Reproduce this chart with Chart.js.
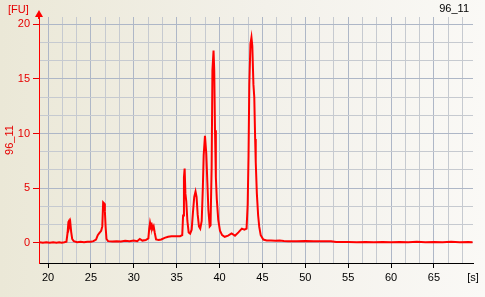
<!DOCTYPE html>
<html><head><meta charset="utf-8">
<script src="https://cdn.jsdelivr.net/npm/chart.js@4"></script>
<style>
html,body{margin:0;padding:0;}
body{width:485px;height:297px;overflow:hidden;}
#wrap{width:485px;height:297px;background:linear-gradient(to right,#ebe8d7 0%,#f3f1ea 55%,#faf9f6 100%);}
canvas{display:block;}
</style></head><body><div id="wrap"><canvas id="c" width="485" height="297"></canvas></div>
<script>
// ---- data ----
const times = [
 19.0,19.4,19.8,20.2,20.6,21.0,21.3,21.6,21.9,22.15,22.28,22.38,22.45,22.52,22.6,22.7,22.82,23.0,23.4,23.8,
 24.2,24.6,25.0,25.3,25.6,25.8,26.0,26.2,26.33,26.43,26.55,26.63,26.72,26.82,27.0,27.5,28.0,28.5,29.0,29.5,
 30.0,30.4,30.7,31.0,31.4,31.7,31.8,31.9,32.0,32.1,32.22,32.32,32.45,32.6,32.9,33.2,33.6,34.0,34.4,34.9,
 35.4,35.65,35.75,35.85,35.93,36.02,36.12,36.25,36.4,36.57,36.75,36.9,37.05,37.2,37.32,37.45,37.6,37.75,37.92,38.05,
 38.15,38.3,38.45,38.58,38.7,38.85,38.95,39.08,39.17,39.3,39.38,39.47,39.57,39.68,39.85,40.05,40.3,40.6,41.0,41.4,
 41.8,42.2,42.6,42.9,43.15,43.28,43.38,43.47,43.6,43.72,43.82,43.95,44.05,44.15,44.22,44.35,44.5,44.63,44.8,45.1,
 45.5,46.0,46.5,47.0,47.5,48.0,49.0,50.0,51.0,52.0,53.0,53.6,54.0,55.0,56.0,57.0,58.0,59.0,60.0,61.0,
 62.0,63.0,64.0,65.0,66.0,67.0,68.0,69.0,69.5
];
const signal = [
 0.05,0.0,0.05,0.0,0.05,0.0,0.05,0.0,0.05,0.1,0.9,1.9,2.0,1.6,1.85,1.0,0.35,0.15,0.05,0.1,
 0.05,0.1,0.1,0.15,0.3,0.7,0.9,1.1,1.5,3.7,3.6,2.9,1.4,0.35,0.15,0.12,0.15,0.12,0.18,0.15,
 0.2,0.15,0.35,0.2,0.25,0.4,1.3,1.85,1.5,1.65,1.3,1.5,0.9,0.3,0.25,0.3,0.45,0.55,0.6,0.6,
 0.6,0.7,2.5,6.0,6.8,4.5,3.8,2.0,0.95,0.84,1.2,2.8,4.2,4.7,4.2,2.6,1.5,1.3,2.0,5.0,
 8.0,9.8,8.2,5.5,3.0,1.5,1.6,7.0,15.8,17.6,15.8,10.3,6.0,4.0,2.1,1.1,0.7,0.55,0.65,0.85,
 0.65,0.95,1.3,1.2,1.3,3.5,8.0,14.5,18.2,18.8,18.0,14.5,13.3,9.5,7.4,4.5,2.5,1.45,0.7,0.3,
 0.22,0.2,0.18,0.2,0.17,0.15,0.15,0.16,0.14,0.15,0.14,0.08,0.07,0.07,0.04,0.08,0.05,0.08,0.05,0.07,
 0.05,0.09,0.06,0.08,0.05,0.09,0.06,0.08,0.06
];
const xTickLabels = [20,25,30,35,40,45,50,55,60,65];
const yTickLabels = [0,5,10,15,20];
const X_MIN = 18.95, X_MAX = 69.55;
const Y_MIN = -1.85, Y_MAX = 20.67;
const yTitle = '96_11';
const unitY = '[FU]';
const unitX = '[s]';
const sampleName = '96_11';

// grid positions: each labelled tick plus two minor lines between
function gridFrom(labels, lo, hi){
  const out=[];
  const step=(labels[1]-labels[0])/3;
  for(let k=-3;k<=labels.length*3+3;k++){
    const v=labels[0]+k*step;
    if(v>=lo-1e-9 && v<=hi+1e-9) out.push(v);
  }
  return out;
}
const xGrid = gridFrom(xTickLabels, X_MIN, X_MAX);
const yGrid = gridFrom(yTickLabels, 0, Y_MAX);
function isLabel(v, labels){ return labels.some(l=>Math.abs(l-v)<1e-6); }

const FONT = {family:'"Liberation Sans", Arial, sans-serif', size:11};
const RED = '#e60000';
const MAJOR = '#aeb7c7', MINOR = '#c6cad0';

const decor = {
  id:'decor',
  afterDraw(chart){
    const c=chart.ctx, a=chart.chartArea;
    c.save();
    // arrow on y axis
    c.fillStyle='#ff0000';
    c.beginPath();
    c.moveTo(a.left-4, a.top);
    c.lineTo(a.left+4, a.top);
    c.lineTo(a.left, a.top-7);
    c.closePath();
    c.fill();
    c.strokeStyle='#ff0000'; c.lineWidth=1;
    c.beginPath(); c.moveTo(a.left-0.5,a.top); c.lineTo(a.left-0.5,a.top+2); c.stroke();
    c.font='11px "Liberation Sans", Arial, sans-serif';
    c.textBaseline='middle';
    c.fillStyle=RED; c.textAlign='left';
    c.fillText(unitY, 8, 9.5);
    c.fillStyle='#000'; c.textAlign='right';
    c.fillText(sampleName, 469, 8.5);
    c.textAlign='center';
    c.fillText(unitX, a.right, 278);
    c.restore();
  }
};

const pts = times.map((t,i)=>({x:t,y:signal[i]}));
new Chart(document.getElementById('c'), {
  type:'scatter',
  data:{datasets:[{data:pts, showLine:true, borderColor:'#ff0000', borderWidth:2, pointRadius:0, tension:0, fill:false}]},
  options:{
    responsive:false, animation:false, events:[],
    layout:{padding:{top:17,right:12,left:0,bottom:0}},
    plugins:{legend:{display:false}, tooltip:{enabled:false}},
    scales:{
      x:{
        type:'linear', min:X_MIN, max:X_MAX,
        afterBuildTicks:s=>{ s.ticks = xGrid.map(v=>({value:v})); },
        afterFit:s=>{ s.height = 34; },
        ticks:{ color:'#000', font:FONT, padding:3, maxRotation:0, autoSkip:false,
          callback:v=> isLabel(v,xTickLabels) ? String(Math.round(v)) : '' },
        grid:{ color:ctx=> isLabel(ctx.tick.value,xTickLabels)?MAJOR:MINOR,
          tickColor:ctx=> isLabel(ctx.tick.value,xTickLabels)?'#000':'rgba(0,0,0,0)', tickLength:5, lineWidth:1 },
        border:{ color:'#000', width:1 }
      },
      y:{
        type:'linear', min:Y_MIN, max:Y_MAX,
        afterBuildTicks:s=>{ s.ticks = yGrid.map(v=>({value:v})); },
        afterFit:s=>{ s.width = 39; },
        ticks:{ color:RED, font:FONT, padding:3, autoSkip:false,
          callback:v=> isLabel(v,yTickLabels) ? String(Math.round(v)) : '' },
        grid:{ color:ctx=> isLabel(ctx.tick.value,yTickLabels)?MAJOR:MINOR,
          tickColor:ctx=> isLabel(ctx.tick.value,yTickLabels)?RED:'rgba(0,0,0,0)', tickLength:6, lineWidth:1 },
        border:{ color:'#ff0000', width:1 },
        title:{ display:true, text:yTitle, color:RED, font:FONT, padding:{top:3,bottom:0} }
      }
    }
  },
  plugins:[decor]
});
</script>
</body></html>
